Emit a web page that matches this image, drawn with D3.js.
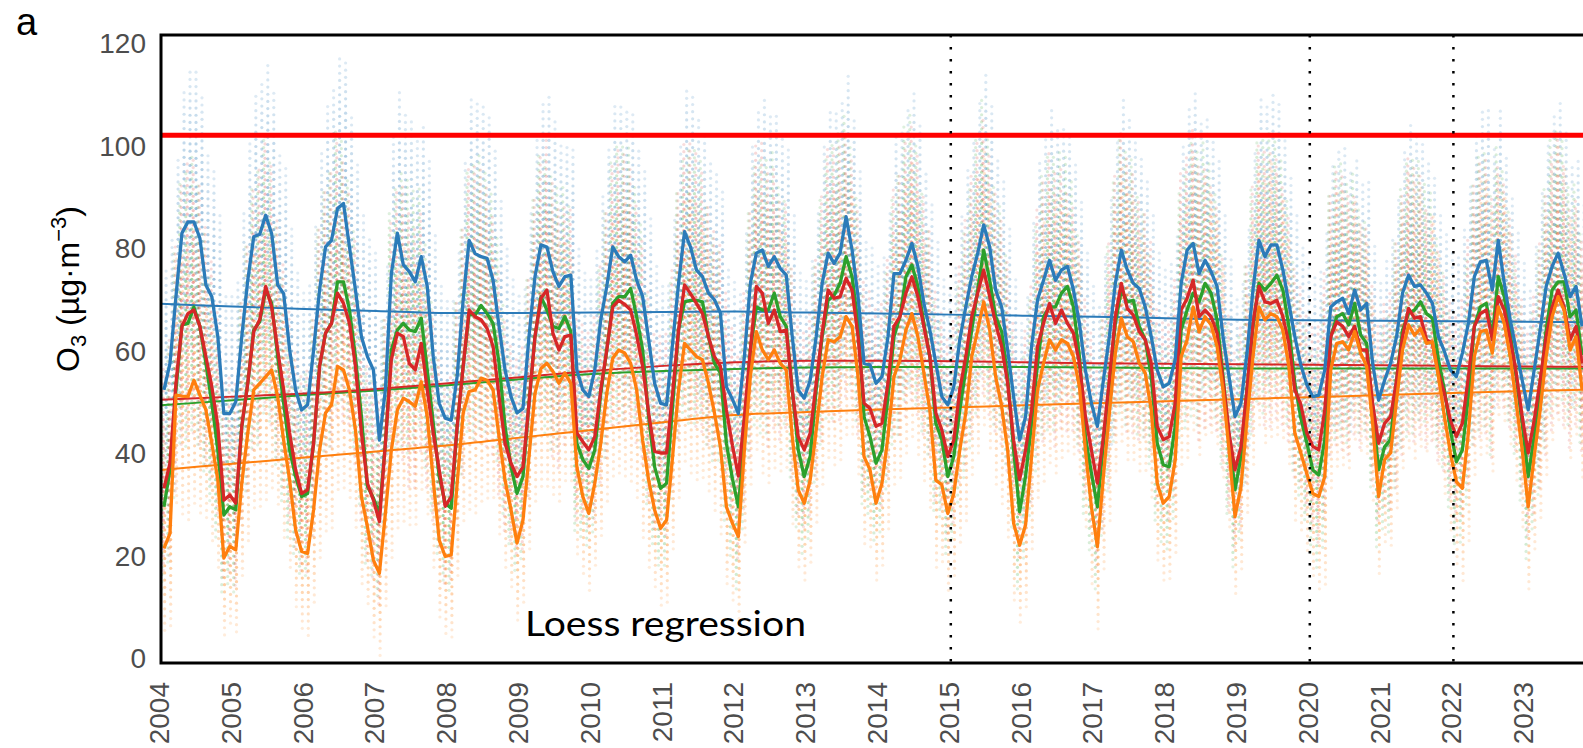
<!DOCTYPE html>
<html lang="en">
<head>
<meta charset="utf-8">
<title>O3 monthly means 2004-2023</title>
<script src="https://d3js.org/d3.v7.min.js"></script>
<style>
  body { margin: 0; background: #fff; }
  svg { display: block; }
  .tick-label { font-family: "Liberation Sans", Arial, sans-serif; font-size: 28px; fill: #4d4d4d; }
</style>
</head>
<body>
<script>
// monthly means from Jan 2004, one row per year
var blue = [
  52.3,57.5,70.5,82.9,85.1,85.1,81.9,72.8,70.5,62.7,47.7,47.7,
  50.0,62.7,73.7,82.2,82.7,86.4,82.8,72.8,71.1,60.1,52.3,48.4,
  49.4,60.1,71.8,80.2,81.5,87.7,88.7,80.2,71.8,62.7,58.8,56.2,
  42.5,52.3,75.0,82.9,76.7,75.4,73.4,78.3,72.5,58.8,49.7,46.8,
  46.4,55.0,69.9,81.5,78.9,78.3,78.0,73.7,64.7,56.2,51.0,47.8,
  48.7,62.7,74.4,80.6,80.2,75.4,72.5,74.4,74.7,56.2,52.3,51.0,
  56.2,66.0,72.5,80.2,78.3,77.3,78.6,73.7,70.5,62.1,53.6,49.7,
  49.4,61.4,73.1,83.2,80.2,75.7,74.4,71.2,69.9,67.3,52.9,50.5,
  47.7,58.8,73.1,79.0,79.6,76.4,78.3,76.0,74.7,62.7,52.3,50.7,
  54.2,62.7,73.1,79.0,77.0,79.0,86.1,79.6,70.5,57.5,57.2,53.6,
  54.9,62.7,75.0,75.0,77.6,80.9,76.4,69.2,64.0,57.5,51.0,49.4,
  52.9,62.1,68.5,74.4,79.0,84.5,80.2,71.8,68.5,60.1,51.0,42.5,
  47.1,60.8,69.9,73.7,77.6,73.7,75.7,76.4,71.8,65.3,56.2,49.7,
  45.2,54.2,62.7,73.1,79.6,75.7,73.1,72.1,68.5,62.7,56.2,52.9,
  53.6,58.2,73.1,79.6,80.9,75.0,77.6,75.4,72.5,62.7,54.9,47.1,
  49.7,59.5,71.8,81.5,78.3,80.6,80.6,75.7,69.2,62.7,57.2,53.3,
  51.0,51.3,56.2,68.5,69.5,70.2,67.2,71.8,67.9,69.2,57.5,50.3,
  54.2,57.5,62.7,71.2,74.7,72.5,72.8,71.2,69.2,62.7,59.8,56.2,
  54.9,59.5,65.3,74.4,77.3,77.6,71.8,81.5,73.1,66.0,60.1,54.2,
  48.4,56.2,64.0,72.5,76.4,79.0,75.0,70.5,72.5,64.7
];
var red = [
  33.1,38.0,53.6,64.7,67.2,67.9,64.7,58.8,52.9,45.2,30.8,31.8,
  30.2,45.2,53.6,63.7,66.0,72.5,68.5,60.1,52.3,43.9,36.7,32.1,
  32.8,41.9,56.9,63.4,65.3,71.2,69.2,65.3,56.9,43.9,34.1,30.8,
  26.6,41.9,58.2,63.4,62.7,57.5,56.2,61.4,52.3,43.9,36.7,29.6,
  31.5,45.2,56.9,67.9,66.6,66.0,64.3,60.8,51.0,41.9,38.0,35.4,
  37.3,49.7,62.7,70.2,71.8,63.4,60.1,62.7,63.0,43.9,42.2,40.6,
  43.2,52.3,60.1,68.5,69.8,69.0,67.9,63.0,56.9,47.8,40.3,40.0,
  40.0,51.6,64.0,72.8,71.1,69.2,67.2,62.7,58.8,56.9,48.4,41.5,
  35.5,47.1,60.1,72.5,71.2,65.3,67.9,63.7,64.0,52.3,43.2,40.6,
  43.9,53.6,63.4,71.8,70.2,70.5,74.1,71.8,62.7,49.7,48.7,45.2,
  45.8,53.6,64.7,66.6,71.2,74.4,70.5,64.7,58.8,47.8,44.5,39.3,
  42.5,52.3,58.8,66.6,71.2,75.7,70.5,65.3,60.8,53.6,42.5,34.8,
  40.6,48.4,60.8,65.3,69.2,65.3,67.9,65.3,63.4,57.5,47.1,40.6,
  34.1,43.2,54.2,66.6,73.1,68.2,66.9,63.7,62.1,57.5,45.2,42.6,
  43.2,49.7,67.9,70.2,73.7,66.6,67.9,66.6,63.4,54.2,43.9,36.7,
  41.2,52.3,65.3,72.5,69.5,69.2,69.8,66.6,61.4,52.3,49.5,43.9,
  41.3,40.6,48.4,62.7,65.6,64.7,62.7,64.7,60.1,60.1,49.7,41.9,
  45.8,47.1,54.2,62.7,68.2,66.3,66.6,62.1,61.4,55.6,51.6,46.4,
  43.2,45.8,54.9,64.7,67.2,67.9,62.1,70.5,67.9,62.1,55.6,47.1,
  40.0,46.4,54.2,62.7,68.5,71.8,68.5,62.1,64.7,57.5
];
var green = [
  29.5,36.7,52.3,65.0,65.3,68.5,64.7,57.5,49.7,40.6,27.9,29.5,
  28.9,45.2,53.6,64.0,65.6,71.8,69.2,58.8,49.7,40.6,35.4,31.5,
  32.1,41.9,56.9,63.4,65.3,73.4,73.4,67.9,58.8,47.1,33.5,31.2,
  28.2,41.9,60.1,64.0,65.3,64.0,63.7,66.3,56.2,45.8,35.4,30.2,
  29.2,45.2,56.9,67.2,66.9,68.8,67.2,65.3,57.5,45.2,37.3,32.1,
  35.4,49.7,62.7,70.5,67.9,64.7,64.3,66.6,63.7,41.9,38.7,37.0,
  40.6,51.6,60.1,69.2,70.5,70.5,72.1,66.6,60.1,47.1,37.3,33.1,
  34.1,49.1,64.0,69.5,69.8,69.8,69.5,62.7,57.5,55.6,41.9,35.0,
  29.5,43.2,60.1,68.5,67.9,67.9,71.2,66.6,64.7,52.3,40.6,35.4,
  39.3,52.3,62.7,69.8,70.8,73.1,78.3,74.4,65.3,47.1,43.2,38.0,
  40.6,51.0,62.7,66.6,74.4,76.7,72.5,65.3,58.8,45.8,42.6,35.4,
  39.3,48.4,56.2,64.0,71.8,79.6,73.7,66.6,63.7,54.9,40.6,28.5,
  35.5,45.8,57.5,66.6,68.5,68.5,71.2,72.5,68.5,58.8,43.2,36.1,
  29.5,41.9,53.6,65.3,71.8,69.5,69.8,64.7,62.1,54.9,41.9,37.7,
  37.3,45.2,64.0,67.9,71.2,69.5,73.1,71.2,66.0,54.9,43.2,32.8,
  39.3,52.3,64.7,73.1,71.8,73.1,74.7,71.8,64.7,53.6,46.8,42.0,
  36.7,35.7,42.6,62.7,66.6,67.2,65.0,69.2,63.0,61.4,48.4,36.7,
  41.2,42.6,54.2,64.0,67.2,67.9,69.5,67.2,66.3,58.2,52.3,44.5,
  38.3,40.6,51.0,64.7,68.5,69.2,62.7,74.4,70.5,63.4,54.9,45.8,
  35.4,43.2,52.9,64.0,71.8,73.4,73.4,66.6,67.9,59.1
];
var orange = [
  21.4,24.3,51.3,51.1,51.0,54.2,51.3,48.4,41.9,34.7,19.5,21.8,
  21.1,34.1,43.9,52.3,53.6,54.9,56.2,51.0,42.5,34.7,25.0,20.8,
  20.4,28.9,40.6,47.8,49.4,56.9,56.2,52.3,44.5,31.5,25.6,19.1,
  16.5,28.2,40.6,48.4,50.7,50.0,49.1,53.9,47.1,34.7,23.0,19.8,
  20.1,34.1,47.8,52.0,52.3,54.6,54.2,52.3,43.2,34.7,28.9,22.4,
  26.9,39.3,51.6,56.5,57.5,55.9,53.6,55.6,53.6,37.3,31.5,28.2,
  34.1,41.9,51.6,58.5,60.1,59.5,57.5,52.3,42.5,34.7,28.9,25.3,
  26.9,39.3,52.3,61.4,60.1,58.8,58.2,53.6,47.8,41.2,29.5,26.3,
  23.7,40.6,54.9,63.7,60.1,58.2,60.1,57.5,56.2,43.2,32.8,30.2,
  34.7,44.5,54.9,62.1,61.7,62.7,66.6,64.7,54.9,39.3,36.7,30.2,
  34.1,43.2,54.9,58.2,64.0,67.2,62.7,55.6,48.4,34.7,33.8,28.2,
  32.1,40.6,47.8,58.8,64.0,69.5,64.0,54.9,49.1,40.6,26.3,22.0,
  26.0,39.3,52.3,57.5,62.1,60.1,62.1,61.4,58.8,52.9,40.6,29.5,
  21.7,35.4,47.8,59.5,66.3,62.7,61.7,57.5,55.6,48.4,34.1,30.2,
  31.5,38.6,58.8,62.1,68.5,63.7,66.6,65.0,60.8,52.3,40.6,27.6,
  33.4,46.4,58.8,68.5,66.0,67.2,66.6,64.0,56.9,43.9,40.0,36.0,
  32.1,31.5,35.4,56.2,61.4,61.7,60.1,63.7,59.5,56.9,45.8,31.5,
  38.7,40.0,50.3,60.1,65.0,63.0,64.3,61.4,61.7,54.9,47.1,40.0,
  34.4,33.1,43.9,58.8,63.7,64.0,59.5,68.5,65.3,58.8,49.7,40.6,
  29.5,39.3,48.4,58.8,66.6,70.5,67.9,60.1,62.7,52.3
];

// loess trend, read once a year (start of year)
var trendYears = [2004,2005,2006,2007,2008,2009,2010,2011,2012,2013,2014,2015,2016,2017,2018,2019,2020,2021,2022,2023,2024];
var blueTrend   = [69.1,68.6,68.1,67.7,67.3,67.3,67.4,67.5,67.6,67.4,67.2,67.0,66.8,66.6,66.3,66.0,65.9,65.8,65.7,65.6,65.5];
var redTrend    = [50.4,51.0,51.6,52.5,53.6,54.8,56.0,57.0,57.7,58.0,58.0,57.9,57.7,57.5,57.4,57.3,57.2,57.1,57.0,56.9,56.8];
var greenTrend  = [49.3,50.3,51.3,52.2,53.2,54.4,55.4,56.0,56.4,56.7,56.8,56.8,56.8,56.7,56.6,56.5,56.5,56.5,56.5,56.5,56.5];
var orangeTrend = [36.7,37.9,39.1,40.3,41.5,43.0,44.5,46.0,47.4,48.0,48.5,48.9,49.3,49.7,50.1,50.5,50.9,51.3,51.7,52.1,52.4];

// how far the station dots reach above / below each mean, by calendar month
var dotUp   = [24,25,27,28,30,30,28,26,25,24,23,23];
var dotDown = [16,18,21,23,24,24,23,21,19,17,15,15];

var limitValue = 102;
var markerYears = [2015, 2020, 2022];
var yTicks = [0, 20, 40, 60, 80, 100, 120];
var xTickLabels = ["2004","2005","2006","2007","2008","2009","2010","2011","2012","2013",
                   "2014","2015","2016","2017","2018","2019","2020","2021","2022","2023"];

var series = [
  { name: "green",  color: "#2ca02c", values: green,  trend: greenTrend },
  { name: "red",    color: "#d62728", values: red,    trend: redTrend },
  { name: "orange", color: "#ff7f0e", values: orange, trend: orangeTrend },
  { name: "blue",   color: "#2b7bb9", values: blue,   trend: blueTrend }
];

var W = 1583, H = 748;
var plotLeft = 161, plotTop = 35, plotBottom = 663;

var x = d3.scaleLinear().domain([2004, 2024]).range([plotLeft, plotLeft + 20 * 71.8]);
var y = d3.scaleLinear().domain([0, 120]).range([658, 43]);

var svg = d3.select("body").append("svg")
  .attr("width", W)
  .attr("height", H);

svg.append("defs").append("clipPath")
  .attr("id", "clip")
  .append("rect")
  .attr("x", plotLeft)
  .attr("y", plotTop)
  .attr("width", W - plotLeft + 20)
  .attr("height", plotBottom - plotTop);

var plot = svg.append("g").attr("clip-path", "url(#clip)");

function monthTime(i) { return 2004 + (i + 0.5) / 12; }

// station dots
var dots = [];
series.forEach(function (s, si) {
  s.values.forEach(function (c, i) {
    var m = i % 12;
    for (var v = c - dotDown[m]; v <= c + dotUp[m]; v += 1.4) {
      var far = v < c ? (c - v) / dotDown[m] : (v - c) / dotUp[m];
      dots.push({ t: monthTime(i), v: v, color: s.color, op: 0.5 * (1 - 0.7 * far), dx: (si - 1.5) * 1.4 });
    }
  });
});

plot.append("g")
  .selectAll("circle")
  .data(dots)
  .join("circle")
  .attr("cx", function (d) { return x(d.t) + d.dx; })
  .attr("cy", function (d) { return y(d.v); })
  .attr("r", 1.6)
  .attr("fill", function (d) { return d.color; })
  .attr("fill-opacity", function (d) { return d.op; });

// limit line
plot.append("line")
  .attr("x1", plotLeft).attr("x2", W + 20)
  .attr("y1", y(limitValue)).attr("y2", y(limitValue))
  .attr("stroke", "#ff0000")
  .attr("stroke-width", 5);

// trend lines
var trendLine = d3.line()
  .curve(d3.curveMonotoneX)
  .x(function (d) { return x(d[0]); })
  .y(function (d) { return y(d[1]); });

series.forEach(function (s) {
  plot.append("path")
    .datum(d3.zip(trendYears, s.trend))
    .attr("fill", "none")
    .attr("stroke", s.color)
    .attr("stroke-width", 2)
    .attr("d", trendLine);
});

// monthly mean lines
var meanLine = d3.line()
  .x(function (d, i) { return x(monthTime(i)); })
  .y(function (d) { return y(d); });

series.forEach(function (s) {
  plot.append("path")
    .datum(s.values)
    .attr("fill", "none")
    .attr("stroke", s.color)
    .attr("stroke-width", 3.3)
    .attr("stroke-linejoin", "round")
    .attr("d", meanLine);
});

// dotted year markers
plot.selectAll(".marker")
  .data(markerYears)
  .join("line")
  .attr("class", "marker")
  .attr("x1", function (d) { return x(d); })
  .attr("x2", function (d) { return x(d); })
  .attr("y1", plotTop)
  .attr("y2", plotBottom)
  .attr("stroke", "#000")
  .attr("stroke-width", 2.5)
  .attr("stroke-dasharray", "2.5,9.5");

// panel border (left, top, bottom)
svg.append("path")
  .attr("d", "M" + (W + 5) + "," + plotTop + "H" + plotLeft + "V" + plotBottom + "H" + (W + 5))
  .attr("fill", "none")
  .attr("stroke", "#000")
  .attr("stroke-width", 3);

// y tick labels
svg.selectAll(".ytick")
  .data(yTicks)
  .join("text")
  .attr("class", "ytick tick-label")
  .attr("x", 146)
  .attr("y", function (d) { return y(d); })
  .attr("dy", "0.36em")
  .attr("text-anchor", "end")
  .text(function (d) { return d; });

// x tick labels, rotated
svg.selectAll(".xtick")
  .data(xTickLabels)
  .join("text")
  .attr("class", "xtick tick-label")
  .attr("transform", function (d) { return "translate(" + (x(+d) - 2) + ",682) rotate(-90)"; })
  .attr("dy", "0.36em")
  .attr("text-anchor", "end")
  .text(function (d) { return d; });

// y title
var title = svg.append("text")
  .attr("transform", "translate(67,289) rotate(-90)")
  .attr("text-anchor", "middle")
  .attr("dy", "0.36em")
  .attr("font-family", "Liberation Sans, Arial, sans-serif")
  .attr("font-size", 32)
  .attr("fill", "#000");
title.append("tspan").text("O");
title.append("tspan").attr("font-size", 22).attr("dy", 7).text("3");
title.append("tspan").attr("dy", -7).text(" (\u00b5g\u00b7m");
title.append("tspan").attr("font-size", 22).attr("dy", -13).text("\u22123");
title.append("tspan").attr("dy", 13).text(")");

// panel letter
svg.append("text")
  .attr("x", 16)
  .attr("y", 35)
  .attr("font-family", "Liberation Sans, Arial, sans-serif")
  .attr("font-size", 38)
  .attr("fill", "#000")
  .text("a");

// annotation
svg.append("text")
  .attr("x", 525)
  .attr("y", 636)
  .attr("font-family", "Lato, 'Open Sans', sans-serif")
  .attr("font-size", 35)
  .attr("textLength", 281)
  .attr("lengthAdjust", "spacingAndGlyphs")
  .attr("fill", "#000")
  .text("Loess regression");
</script>
</body>
</html>
